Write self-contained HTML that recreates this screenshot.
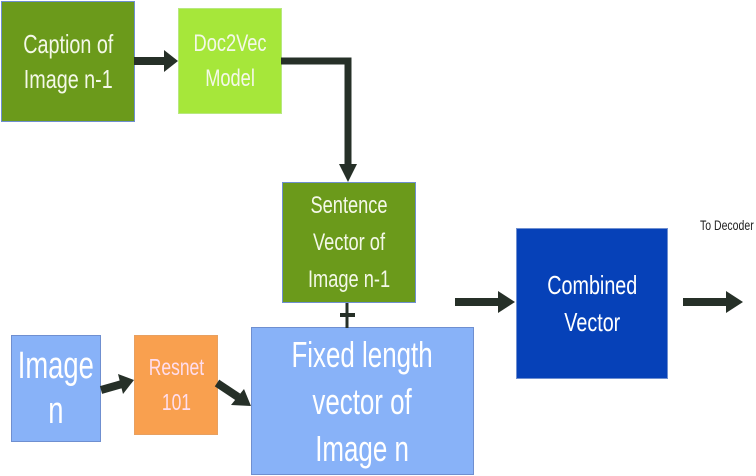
<!DOCTYPE html>
<html><head><style>
body{margin:0;width:756px;height:476px;background:#fff;position:relative;overflow:hidden;font-family:"Liberation Sans",sans-serif}
.b{position:absolute;display:flex;align-items:center;justify-content:center;text-align:center;color:#f4f8e8;box-sizing:border-box;border:1px solid #6f8fd0;}
.t{transform:scaleX(0.76);display:inline-block;white-space:nowrap}
</style></head><body>
<div class="b" style="left:1px;top:1px;width:134px;height:121px;background:#6b9a1b;font-size:26px;line-height:35px"><span class="t">Caption of<br>Image n-1</span></div>
<div class="b" style="left:178px;top:8px;width:104px;height:106px;background:#a6e73a;border-color:#b8e880;font-size:24px;line-height:35px"><span class="t">Doc2Vec<br>Model</span></div>
<div class="b" style="left:282px;top:182px;width:134px;height:121px;background:#6b9a1b;font-size:24px;line-height:37px"><span class="t">Sentence<br>Vector of<br>Image n-1</span></div>
<div class="b" style="left:11px;top:335px;width:90px;height:107px;background:#88b2f8;font-size:38px;line-height:45px;color:#fff"><span class="t" style="transform:scaleX(0.72)">Image<br>n</span></div>
<div class="b" style="left:134px;top:335px;width:84px;height:100px;background:#f9a04f;border-color:#e8a060;font-size:23px;line-height:35px;color:#fde"><span class="t">Resnet<br>101</span></div>
<div class="b" style="left:251px;top:327px;width:223px;height:148px;background:#88b2f8;font-size:36px;line-height:47px;color:#fff"><span class="t" style="transform:scaleX(0.72)">Fixed length<br>vector of<br>Image n</span></div>
<div class="b" style="left:516px;top:228px;width:152px;height:151px;background:#0641b8;font-size:26px;line-height:37px;color:#fff"><span class="t">Combined<br>Vector</span></div>
<div style="position:absolute;left:700px;top:217px;font-size:14px;color:#222;white-space:nowrap"><span style="display:inline-block;transform:scaleX(0.75);transform-origin:left">To Decoder</span></div>
<svg width="756" height="476" style="position:absolute;left:0;top:0">
<g fill="#263028" stroke="#263028">
<line x1="134" y1="61" x2="166" y2="61" stroke-width="8"/><polygon points="164,50 178,61 164,72" stroke="none"/>
<polyline points="281,61 348,61 348,166" fill="none" stroke-width="7"/><polygon points="339,164 357,164 348,182" stroke="none"/>
<line x1="347" y1="303" x2="347" y2="328" stroke-width="3"/><line x1="340" y1="315" x2="355" y2="315" stroke-width="4"/>
<line x1="455" y1="302" x2="500" y2="302" stroke-width="8"/><polygon points="498,291 515,302 498,313" stroke="none"/>
<line x1="683" y1="302" x2="728" y2="302" stroke-width="8"/><polygon points="726,291 743,302 726,313" stroke="none"/>
<line x1="101" y1="390" x2="122" y2="384" stroke-width="8"/><polygon points="118,374 134,380 123,394" stroke="none"/>
<line x1="217" y1="383" x2="238" y2="397" stroke-width="8"/><polygon points="231,405 251,406 244,389" stroke="none"/>
</g></svg>
</body></html>
